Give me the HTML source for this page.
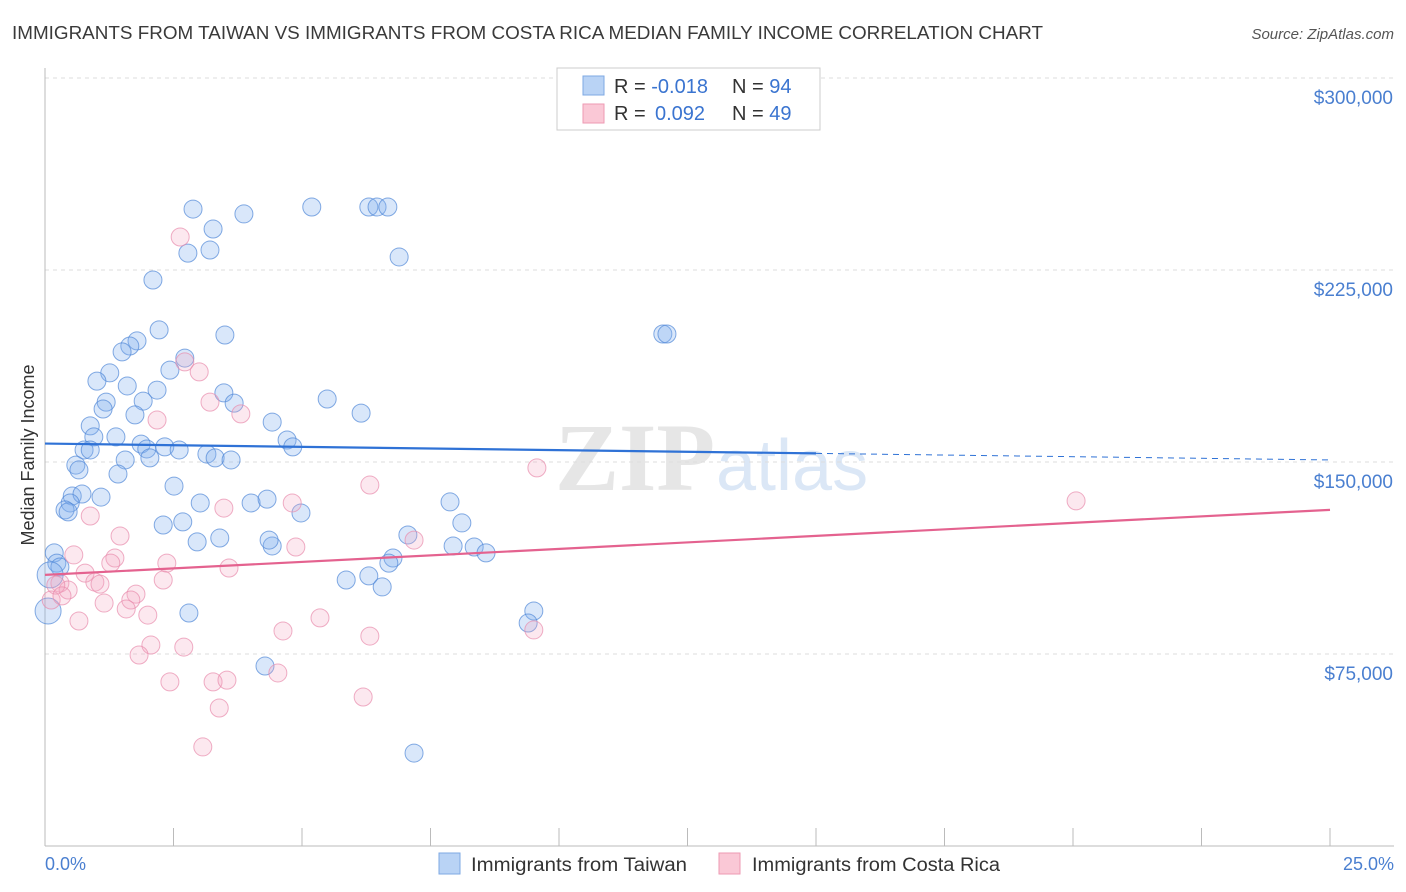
<!DOCTYPE html>
<html><head><meta charset="utf-8"><style>
body{margin:0;background:#fff;font-family:"Liberation Sans",sans-serif}
svg{display:block}
</style></head><body>
<svg id="chart" width="1406" height="892">
<text x="12" y="39" font-size="18.5" fill="#3a3a3a" textLength="1031" lengthAdjust="spacingAndGlyphs">IMMIGRANTS FROM TAIWAN VS IMMIGRANTS FROM COSTA RICA MEDIAN FAMILY INCOME CORRELATION CHART</text>
<text x="1394" y="39" font-size="15" fill="#555" font-style="italic" text-anchor="end">Source: ZipAtlas.com</text>
<text x="555" y="490" font-size="96" fill="#e6e6e6" font-family="Liberation Serif" font-weight="bold">ZIP</text>
<text x="716" y="490" font-size="72" fill="#dbe7f6">atlas</text>
<g id="grid"></g><g id="ticks"></g><g id="pts"></g><g id="trend"></g>
<text transform="translate(34,455) rotate(-90)" font-size="18" fill="#333" text-anchor="middle">Median Family Income</text>
<text x="45" y="870" font-size="18" fill="#4a7fd0">0.0%</text>
<text x="1394" y="870" font-size="18" fill="#4a7fd0" text-anchor="end">25.0%</text>
<g>
<rect x="557" y="68" width="263" height="62" fill="#fff" stroke="#ccc"/>
<rect x="583" y="76" width="21" height="19" fill="#b9d3f5" stroke="#7ea8e3"/>
<rect x="583" y="104" width="21" height="19" fill="#fac8d6" stroke="#ee9ab3"/>
<text x="614" y="93" font-size="20" fill="#333">R = <tspan fill="#3a74d0">-0.018</tspan><tspan x="732">N = </tspan><tspan fill="#3a74d0">94</tspan></text>
<text x="614" y="120" font-size="20" fill="#333">R = <tspan fill="#3a74d0" x="655">0.092</tspan><tspan x="732">N = </tspan><tspan fill="#3a74d0">49</tspan></text>
</g>
<g>
<rect x="439" y="853" width="21" height="21" fill="#b9d3f5" stroke="#7ea8e3"/>
<text x="471" y="871" font-size="19" fill="#333" textLength="216" lengthAdjust="spacingAndGlyphs">Immigrants from Taiwan</text>
<rect x="719" y="853" width="21" height="21" fill="#fac8d6" stroke="#ee9ab3"/>
<text x="752" y="871" font-size="19" fill="#333" textLength="248" lengthAdjust="spacingAndGlyphs">Immigrants from Costa Rica</text>
</g>
</svg>
<script>
const yTicks=[75000,150000,225000,300000];
const yTickLabels=["$75,000","$150,000","$225,000","$300,000"];
const twX=[2.88,3.87,5.19,6.30,6.46,6.67,3.27,3.21,2.78,6.89,2.10,2.22,3.50,12.02,12.10,1.79,1.65,1.50,2.72,1.26,1.01,2.43,1.60,2.18,3.48,1.19,1.91,3.68,5.49,6.15,1.13,1.75,4.42,0.88,0.95,1.38,4.71,4.82,0.76,0.88,1.87,1.98,2.33,2.61,3.15,3.31,3.62,2.04,1.56,0.60,0.66,1.42,2.51,0.53,0.72,1.09,0.49,0.39,0.45,3.02,4.01,4.32,7.88,4.98,2.68,2.30,8.11,3.40,2.96,7.06,4.42,4.36,7.94,8.35,8.58,0.18,0.23,0.29,6.77,6.69,5.86,6.30,6.56,2.80,9.51,9.40,4.28,7.18,0.06,0.10];
const twY=[248800,246900,249600,249600,249600,249600,241000,232800,231600,230100,221100,201600,199600,200000,200000,197300,195300,193000,190600,184800,181600,185900,179700,178100,177000,173400,173800,173000,174600,169100,170700,168400,165600,164100,159800,159800,158600,155900,154700,154700,157000,155100,155900,154700,153100,151600,150800,151600,150800,148800,146900,145300,140600,136700,137500,136300,134000,131300,130500,134000,134000,135500,134400,130100,126600,125400,126200,120300,118800,121500,117200,119500,117200,116800,114500,114500,110500,109000,112500,110500,103900,105500,101200,91000,91800,87100,70300,36300,91800,105900];
const crX=[2.63,2.72,3.00,3.21,3.81,2.18,9.57,6.32,20.06,4.81,3.48,0.88,1.46,0.56,1.36,4.88,7.18,2.37,1.28,0.78,3.58,2.30,0.97,1.07,0.29,0.45,0.21,0.12,0.33,1.77,1.67,1.15,1.58,2.00,5.35,0.66,4.63,6.32,9.51,2.06,2.70,1.83,4.53,2.43,3.27,3.54,6.19,3.39,3.07];
const crY=[237900,189100,185200,173400,168800,166400,147700,141000,134800,134000,132000,128900,121100,113700,112500,116800,119500,110500,110500,106600,108600,103900,103100,102300,102700,100000,101900,96100,97700,98400,96100,94900,92600,90200,89100,87900,84000,82000,84400,78500,77700,74600,67600,64100,64100,64800,58200,53900,38700];
const twTrend=[157200,150800];
const crTrend=[105900,131300];
const NS="http://www.w3.org/2000/svg";
const X=p=>45+p*51.4, Y=v=>654-(v-75000)/75000*192;
function mk(tag,attrs,parent){const e=document.createElementNS(NS,tag);for(const k in attrs)e.setAttribute(k,attrs[k]);document.getElementById(parent).appendChild(e);return e;}
yTicks.forEach((t,i)=>{
 const l=mk('line',{x1:45,x2:1394,y1:Y(t),y2:Y(t),stroke:'#ddd','stroke-dasharray':'4,4'},'grid');
 
 
 const tx=mk('text',{x:1393,y:Y(t)+26,'font-size':19,fill:'#4a7fd0','text-anchor':'end'},'grid');
 tx.textContent=yTickLabels[i];
 
 
});
const ax=mk('line',{x1:45,x2:45,y1:68,y2:846,stroke:'#bbb'},'ticks');


const bx=mk('line',{x1:45,x2:1394,y1:846,y2:846,stroke:'#bbb'},'ticks');


for(let i=1;i<=10;i++){
 const t=mk('line',{x1:X(i*2.5),x2:X(i*2.5),y1:828,y2:846,stroke:'#bbb'},'ticks');
 
 
}
twX.forEach((x,i)=>{
 const c=mk('circle',{cx:X(x),cy:Y(twY[i]),r:(i>=88?13:9),fill:'rgba(130,175,240,0.3)',stroke:'rgba(80,135,215,0.7)','stroke-width':1},'pts');
 
 
});
crX.forEach((x,i)=>{
 const c=mk('circle',{cx:X(x),cy:Y(crY[i]),r:9,fill:'rgba(245,165,190,0.25)',stroke:'rgba(232,140,172,0.7)','stroke-width':1},'pts');
 
 
});
const tY=p=>twTrend[0]+(twTrend[1]-twTrend[0])*p/25;
const l1=mk('line',{x1:X(0),y1:Y(tY(0)),x2:X(15),y2:Y(tY(15)),stroke:'#2f72d6','stroke-width':2.2},'trend');


const l2=mk('line',{x1:X(15),y1:Y(tY(15)),x2:X(25),y2:Y(tY(25)),stroke:'#2f72d6','stroke-width':1,'stroke-dasharray':'6,5'},'trend');


const l3=mk('line',{x1:X(0),y1:Y(crTrend[0]),x2:X(25),y2:Y(crTrend[1]),stroke:'#e4628f','stroke-width':2.2},'trend');


</script>
</body></html>
